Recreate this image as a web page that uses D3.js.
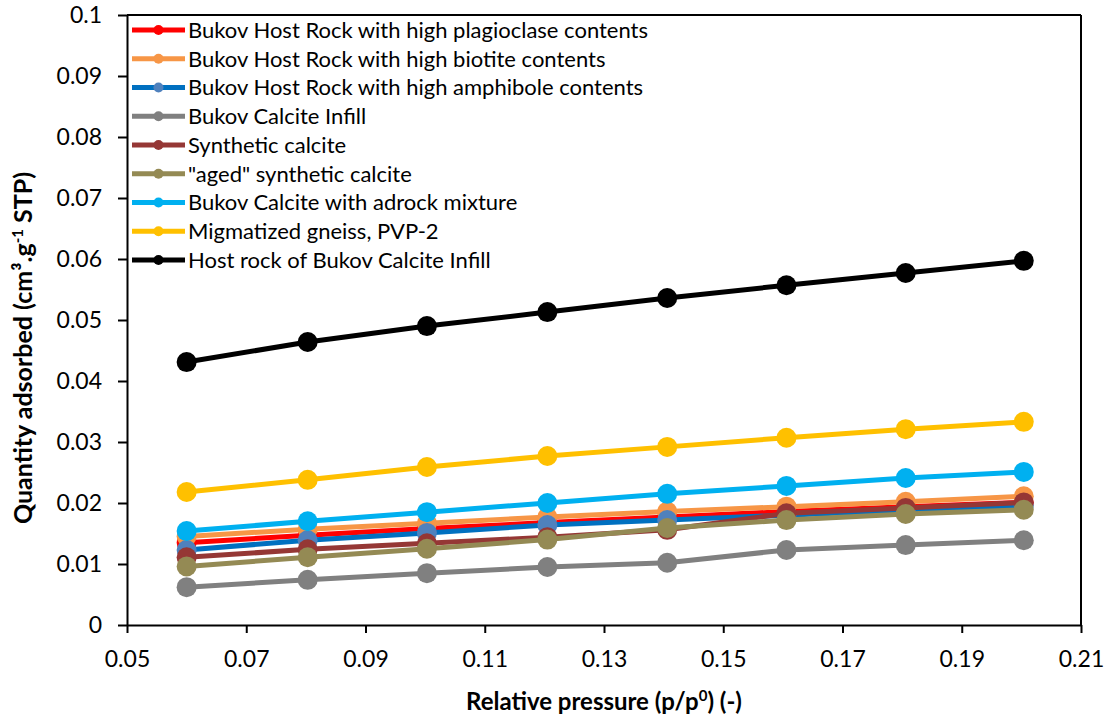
<!DOCTYPE html>
<html>
<head>
<meta charset="utf-8">
<script src="https://cdn.jsdelivr.net/npm/d3@7"></script>
<style>
  body { margin: 0; background: #fff; }
  svg text { font-family: Lato, "Open Sans", sans-serif; fill: #000; }
</style>
</head>
<body>
<div id="chart"></div>
<script>
// relative pressure p/p0
const pressure = [0.0600, 0.0803, 0.1003, 0.1205, 0.1406, 0.1606, 0.1806, 0.2004];

const plagioclase = [0.0135, 0.0147, 0.0158, 0.0168, 0.0177, 0.0186, 0.0194, 0.0201];
const biotite     = [0.0145, 0.0157, 0.0167, 0.0177, 0.0186, 0.0194, 0.0202, 0.0211];
const amphibole   = [0.0123, 0.0139, 0.0151, 0.0164, 0.0172, 0.0180, 0.0188, 0.0196];
const calciteInfill = [0.0062, 0.0074, 0.0085, 0.0095, 0.0102, 0.0123, 0.0131, 0.0139];
const synthCalcite  = [0.0111, 0.0124, 0.0134, 0.0144, 0.0156, 0.0183, 0.0192, 0.0201];
const agedCalcite   = [0.0096, 0.0111, 0.0125, 0.0140, 0.0159, 0.0172, 0.0182, 0.0189];
const adrockMix     = [0.0154, 0.0170, 0.0185, 0.0200, 0.0215, 0.0228, 0.0241, 0.0251];
const gneissPVP2    = [0.0218, 0.0238, 0.0259, 0.0277, 0.0292, 0.0307, 0.0321, 0.0333];
const hostRockInfill = [0.0431, 0.0464, 0.0490, 0.0513, 0.0536, 0.0557, 0.0577, 0.0597];

const xTicks = [0.05, 0.07, 0.09, 0.11, 0.13, 0.15, 0.17, 0.19, 0.21];
const yTicks = [0, 0.01, 0.02, 0.03, 0.04, 0.05, 0.06, 0.07, 0.08, 0.09, 0.1];

const series = [
    { name: "Bukov Host Rock with high plagioclase contents", values: plagioclase, line: "#ff0000", marker: "#ff0000" },
    { name: "Bukov Host Rock with high biotite contents", values: biotite, line: "#f79646", marker: "#f79646" },
    { name: "Bukov Host Rock with high amphibole contents", values: amphibole, line: "#0070c0", marker: "#4f81bd" },
    { name: "Bukov Calcite Infill", values: calciteInfill, line: "#808080", marker: "#808080" },
    { name: "Synthetic calcite", values: synthCalcite, line: "#953735", marker: "#953735" },
    { name: "\"aged\" synthetic calcite", values: agedCalcite, line: "#948a54", marker: "#948a54" },
    { name: "Bukov Calcite with adrock mixture", values: adrockMix, line: "#00b0f0", marker: "#00b0f0" },
    { name: "Migmatized gneiss, PVP-2", values: gneissPVP2, line: "#ffc000", marker: "#ffc000" },
    { name: "Host rock of Bukov Calcite Infill", values: hostRockInfill, line: "#000000", marker: "#000000" }
];

const W = 1105, H = 719;
const margin = { top: 15, right: 24, bottom: 94, left: 127 };
const width = W - margin.left - margin.right;
const height = H - margin.top - margin.bottom;

const svg = d3.select("#chart").append("svg")
    .attr("width", W)
    .attr("height", H);

const g = svg.append("g")
    .attr("transform", "translate(" + margin.left + "," + margin.top + ")");

const x = d3.scaleLinear().domain([0.05, 0.21]).range([0, width]);
const y = d3.scaleLinear().domain([0, 0.1]).range([height, 0]);

// axes
const xAxis = g.append("g")
    .attr("transform", "translate(0," + height + ")")
    .call(d3.axisBottom(x).tickValues(xTicks).tickFormat(d3.format(".2f")).tickSize(8).tickSizeOuter(0));
const yAxis = g.append("g")
    .call(d3.axisLeft(y).tickValues(yTicks).tickFormat(d => d === 0 ? "0" : String(+d.toFixed(2))).tickSize(9).tickSizeOuter(0));

[xAxis, yAxis].forEach(a => {
    a.select(".domain").attr("stroke", "#000").attr("stroke-width", 2);
    a.selectAll(".tick line").attr("stroke", "#000").attr("stroke-width", 2);
    a.selectAll(".tick text").style("font-size", "23px").attr("fill", "#000");
});
xAxis.selectAll(".tick text").attr("y", 25).attr("dy", "0.72em");
yAxis.selectAll(".tick text").attr("x", -25);

// frame top/right
g.append("line").attr("x1", 0).attr("x2", width).attr("y1", 0).attr("y2", 0)
    .attr("stroke", "#000").attr("stroke-width", 2);
g.append("line").attr("x1", width).attr("x2", width).attr("y1", 0).attr("y2", height)
    .attr("stroke", "#000").attr("stroke-width", 2);

// lines + markers
const line = d3.line().x((d, i) => x(pressure[i])).y(d => y(d));
series.forEach(s => {
    const sg = g.append("g");
    sg.append("path")
        .datum(s.values)
        .attr("fill", "none")
        .attr("stroke", s.line)
        .attr("stroke-width", 5)
        .attr("stroke-linejoin", "round")
        .attr("d", line);
    sg.selectAll("circle")
        .data(s.values)
        .enter()
        .append("circle")
        .attr("cx", (d, i) => x(pressure[i]))
        .attr("cy", d => y(d))
        .attr("r", 10)
        .attr("fill", s.marker);
});

// legend
const legend = g.append("g").attr("transform", "translate(5,15)");
series.forEach((s, i) => {
    const row = legend.append("g").attr("transform", "translate(0," + (i * 28.75) + ")");
    row.append("line").attr("x1", 0).attr("x2", 53).attr("y1", 0).attr("y2", 0)
        .attr("stroke", s.line).attr("stroke-width", 5);
    row.append("circle").attr("cx", 26.5).attr("cy", 0).attr("r", 5).attr("fill", s.marker);
    row.append("text").attr("x", 56).attr("y", 0).attr("dy", "0.36em")
        .style("font-size", "22px")
        .text(s.name);
});

// axis titles
svg.append("text")
    .attr("x", 604)
    .attr("y", 710)
    .attr("text-anchor", "middle")
    .style("font-size", "24px")
    .style("font-weight", "bold")
    .html("Relative pressure (p/p<tspan dy='-9' font-size='15px'>0</tspan><tspan dy='9'>) (-)</tspan>");

svg.append("text")
    .attr("transform", "translate(32,348) rotate(-90)")
    .attr("text-anchor", "middle")
    .style("font-size", "25px")
    .style("font-weight", "bold")
    .html("Quantity adsorbed (cm³.g<tspan dy='-9' font-size='15px'>-1</tspan><tspan dy='9'> STP)</tspan>");
</script>
</body>
</html>
